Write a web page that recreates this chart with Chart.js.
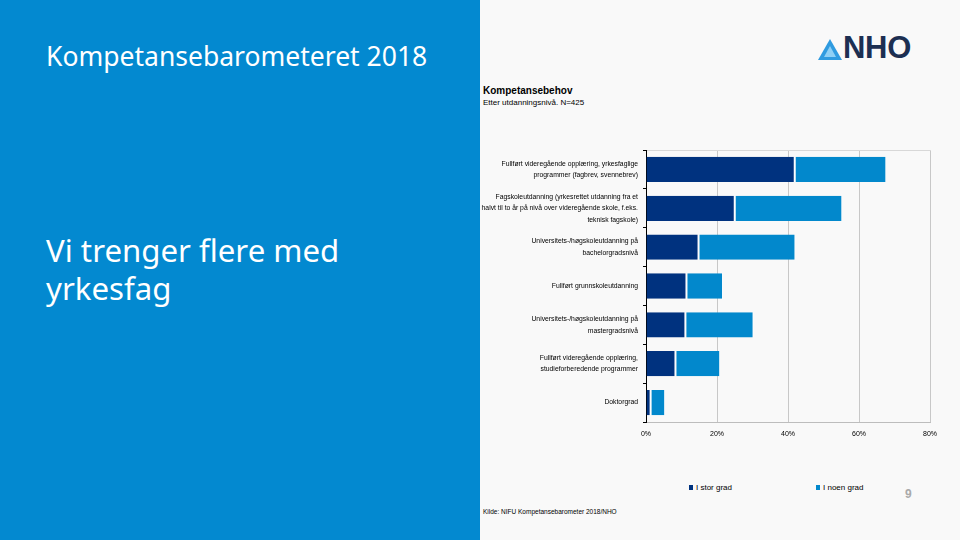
<!DOCTYPE html>
<html><head><meta charset="utf-8">
<script src="https://cdn.jsdelivr.net/npm/chart.js@4.4.0/dist/chart.umd.min.js"></script>
<style>
html,body{margin:0;padding:0;width:960px;height:540px;overflow:hidden;background:#f9f9f9;font-family:"Noto Sans",sans-serif;}
#left{position:absolute;left:0;top:0;width:480px;height:540px;background:#0389d0;}
#title{position:absolute;left:46px;top:38px;color:#fff;font-size:26.5px;font-family:"Noto Sans",sans-serif;white-space:nowrap;}
#big{position:absolute;left:46px;top:231px;color:#fff;font-size:31.2px;line-height:38px;font-family:"Noto Sans",sans-serif;}
#ctitle{position:absolute;left:483px;top:85px;font:bold 10px "Liberation Sans",sans-serif;color:#000;}
#csub{position:absolute;left:483px;top:98px;font:8px "Liberation Sans",sans-serif;color:#000;}
#src{position:absolute;left:483px;top:508px;font:6.5px "Liberation Sans",sans-serif;color:#000;}
#pg{position:absolute;left:905px;top:487px;font:bold 12px "Liberation Sans",sans-serif;color:#aaa;}
#legend{position:absolute;top:483px;left:0;width:960px;height:12px;font:8px "Liberation Sans",sans-serif;color:#000;}
.li{position:absolute;white-space:nowrap;}
.sw{display:inline-block;width:4px;height:5px;margin-right:3px;vertical-align:middle;}
#logo{position:absolute;left:817px;top:37px;height:26px;}
#logotxt{position:absolute;left:843px;top:30px;font:bold 31px "Liberation Sans",sans-serif;color:#1c2f52;letter-spacing:-0.3px;}
#cv{position:absolute;left:460px;top:0;}
</style></head>
<body>
<div id="left"></div>
<div id="title">Kompetansebarometeret 2018</div>
<div id="big">Vi trenger flere med<br>yrkesfag</div>
<svg id="logo" width="26" height="26" viewBox="0 0 26 26"><path d="M13 2 L25 23 L1 23 Z" fill="#2f9be0"/><path d="M13 9 L19 20 L7 20 Z" fill="#8fd0f5"/></svg>
<div id="logotxt">NHO</div>
<div id="ctitle">Kompetansebehov</div>
<div id="csub">Etter utdanningsnivå. N=425</div>
<div id="legend"></div>
<div id="src">Kilde: NIFU Kompetansebarometer 2018/NHO</div>
<div id="pg">9</div>
<canvas id="cv" width="500" height="540"></canvas>
<script>
const categories = [
  ["Fullført videregående opplæring, yrkesfaglige", "programmer (fagbrev, svennebrev)"],
  ["Fagskoleutdanning (yrkesrettet utdanning fra et", "halvt til to år på nivå over videregående skole, f.eks.", "teknisk fagskole)"],
  ["Universitets-/høgskoleutdanning på", "bachelorgradsnivå"],
  ["Fullført grunnskoleutdanning"],
  ["Universitets-/høgskoleutdanning på", "mastergradsnivå"],
  ["Fullført videregående opplæring,", "studieforberedende programmer"],
  ["Doktorgrad"]
];
const seriesNames = ["I stor grad", "I noen grad"];
const storGrad = [41.9, 25.0, 14.8, 11.4, 11.1, 8.3, 1.3];
const noenGrad = [25.8, 30.3, 27.3, 10.3, 19.2, 12.6, 4.1];
const xTicks = [0, 20, 40, 60, 80];
const colors = ["#00327f", "#0288cc"];

const lg = document.getElementById('legend');
const legPos = [689, 816];
seriesNames.forEach((n, i) => {
  const d = document.createElement('div');
  d.className = 'li'; d.style.left = legPos[i] + 'px';
  d.innerHTML = '<span class="sw" style="background:' + colors[i] + '"></span>' + n;
  lg.appendChild(d);
});

const font = {family: "Liberation Sans", size: 6.8, lineHeight: 1.7};
new Chart(document.getElementById('cv'), {
  type: 'bar',
  data: {
    labels: categories,
    datasets: [
      {label: seriesNames[0], data: storGrad, backgroundColor: colors[0], borderColor: '#ffffff', borderWidth: {right: 1, left: 0, top: 0, bottom: 0}, borderSkipped: false},
      {label: seriesNames[1], data: noenGrad, backgroundColor: colors[1], borderColor: '#ffffff', borderWidth: {right: 1, left: 1, top: 0, bottom: 0}, borderSkipped: false}
    ]
  },
  options: {
    indexAxis: 'y',
    responsive: false,
    animation: false,
    layout: {padding: {top: 150, right: 30, bottom: 98, left: 0}},
    categoryPercentage: 0.65,
    barPercentage: 1.0,
    plugins: {legend: {display: false}, tooltip: {enabled: false}},
    scales: {
      x: {
        stacked: true, min: 0, max: 80,
        afterBuildTicks: s => { s.ticks = xTicks.map(v => ({value: v})); },
        afterFit: s => { s.height = 20; },
        ticks: {callback: v => v + '%', color: '#000', font: {family: "Liberation Sans", size: 7}, padding: 8, maxRotation: 0},
        grid: {color: '#c8c8c8', drawTicks: false, lineWidth: 1},
        border: {color: '#bdbdbd'}
      },
      x2: {
        position: 'top', min: 0, max: 80,
        ticks: {display: false}, grid: {display: false, drawTicks: false},
        afterFit: s => { s.height = 0; },
        border: {color: '#d8d8d8'}
      },
      y: {
        stacked: true,
        afterFit: s => { s.width = 186; },
        ticks: {color: '#000', font: font, padding: 5, autoSkip: false},
        grid: {drawOnChartArea: false, drawTicks: true, tickLength: 3, color: '#000', offset: true},
        border: {color: '#000', width: 1}
      }
    }
  }
});
</script>
</body></html>
